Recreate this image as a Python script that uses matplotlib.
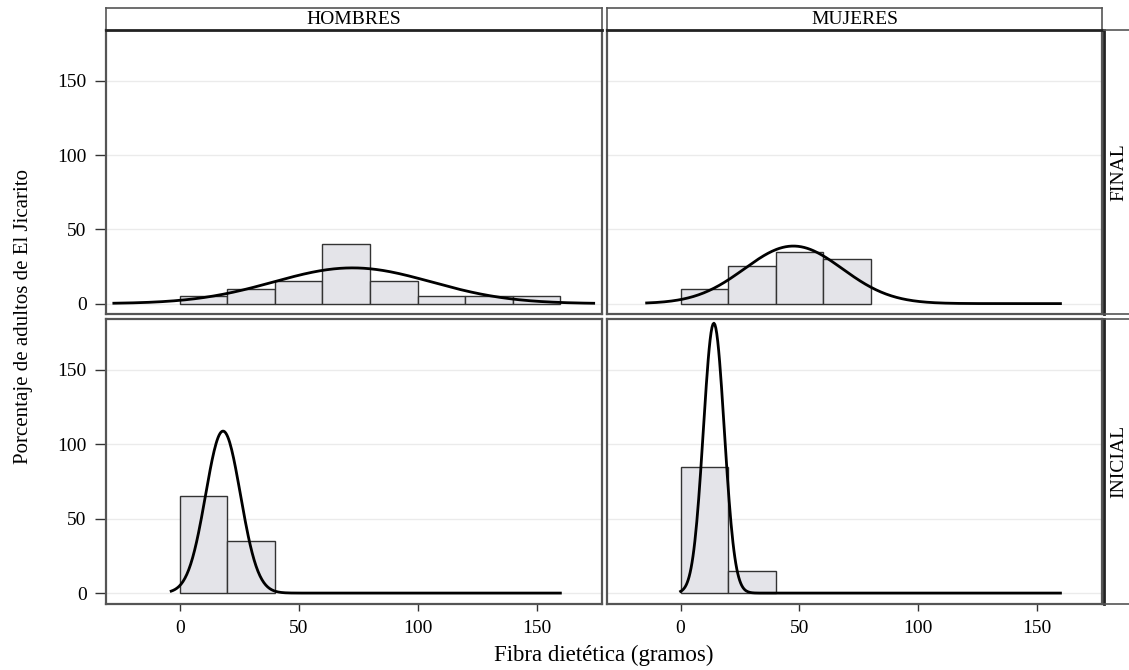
import matplotlib.pyplot as plt
import numpy as np

plt.rcParams['font.family'] = ['Liberation Serif', 'DejaVu Serif']

# histogram bins (gramos) and percentages per panel
bin_width = 20
bin_starts = [0, 20, 40, 60, 80, 100, 120, 140]

hombres_final = [5, 10, 15, 40, 15, 5, 5, 5]
mujeres_final = [10, 25, 35, 30]
hombres_inicial = [65, 35]
mujeres_inicial = [85, 15]

# fitted normal curves: mean, sd, x range drawn
hombres_final_fit = (72.6, 33.2, -27.7, 174.0)
mujeres_final_fit = (47.5, 20.6, -14.3, 160.0)
hombres_inicial_fit = (18.2, 7.33, -3.6, 160.0)
mujeres_inicial_fit = (14.0, 4.40, 0.0, 160.0)

col_labels = ['HOMBRES', 'MUJERES']
row_labels = ['FINAL', 'INICIAL']
y_ticks = [0, 50, 100, 150]
x_ticks = [0, 50, 100, 150]

W, H = 1129, 670
fig = plt.figure(figsize=(W / 100, H / 100), dpi=100)


def box(x0, y0, x1, y1):
    # pixel box (top-left origin) -> figure fraction rect
    return [x0 / W, 1 - y1 / H, (x1 - x0) / W, (y1 - y0) / H]


cols_px = [(106, 602), (607, 1102)]
rows_px = [(29.5, 314), (318.5, 603.5)]

panels = [
    [(hombres_final, hombres_final_fit), (mujeres_final, mujeres_final_fit)],
    [(hombres_inicial, hombres_inicial_fit), (mujeres_inicial, mujeres_inicial_fit)],
]

frame_col = '#555555'

for r in range(2):
    for c in range(2):
        ax = fig.add_axes(box(cols_px[c][0], rows_px[r][0], cols_px[c][1], rows_px[r][1]))
        vals, fit = panels[r][c]
        ax.bar(bin_starts[:len(vals)], vals, width=bin_width, align='edge',
               color='#e4e4e9', edgecolor='#333333', linewidth=1.0, zorder=2)
        mu, sd, x0, x1 = fit
        xs = np.linspace(x0, x1, 400)
        ys = 100 * bin_width * np.exp(-0.5 * ((xs - mu) / sd) ** 2) / (sd * np.sqrt(2 * np.pi))
        ax.plot(xs, ys, color='black', linewidth=2.0, zorder=3)

        ax.set_xlim(-31, 177.5)
        ax.set_ylim(-7, 184.5)
        ax.set_yticks(y_ticks)
        ax.set_xticks(x_ticks)
        ax.grid(axis='y', color='#ebebeb', linewidth=1.0, zorder=0)
        ax.set_axisbelow(True)
        for s in ax.spines.values():
            s.set_color(frame_col)
            s.set_linewidth(1.6)
        ax.tick_params(axis='y', length=8, width=1, color='#333333', pad=6,
                       labelsize=14, labelleft=(c == 0))
        if c == 1:
            ax.tick_params(axis='y', length=0)
        ax.tick_params(axis='x', length=5, width=1, color='#333333', pad=7,
                       labelsize=14, labelbottom=(r == 1))
        if r == 0:
            ax.tick_params(axis='x', length=0)

# column strips
for c in range(2):
    sax = fig.add_axes(box(cols_px[c][0], 7.5, cols_px[c][1], 29.5))
    sax.set_xticks([])
    sax.set_yticks([])
    for s in sax.spines.values():
        s.set_color(frame_col)
        s.set_linewidth(1.2)
    sax.spines['bottom'].set_color('#222222')
    sax.spines['bottom'].set_linewidth(2.0)
    sax.text(0.5, 0.45, col_labels[c], ha='center', va='center', fontsize=14,
             transform=sax.transAxes)

# row strips (cut by the right edge of the image)
for r in range(2):
    rax = fig.add_axes(box(1104, rows_px[r][0], 1160, rows_px[r][1]))
    rax.set_xticks([])
    rax.set_yticks([])
    for s in rax.spines.values():
        s.set_color(frame_col)
        s.set_linewidth(1.2)
    rax.spines['left'].set_color('#222222')
    rax.spines['left'].set_linewidth(2.0)
    fig.text(1119 / W, 1 - (rows_px[r][0] + rows_px[r][1]) / 2 / H, row_labels[r],
             rotation=90, ha='center', va='center', fontsize=14)

fig.text(24 / W, 1 - 316 / H, 'Porcentaje de adultos de El Jicarito', rotation=90,
         ha='center', va='center', fontsize=15)
fig.text(604 / W, 1 - 655 / H, 'Fibra dietética (gramos)', ha='center', va='center',
         fontsize=16.5)

plt.savefig('out.png', dpi=100)
